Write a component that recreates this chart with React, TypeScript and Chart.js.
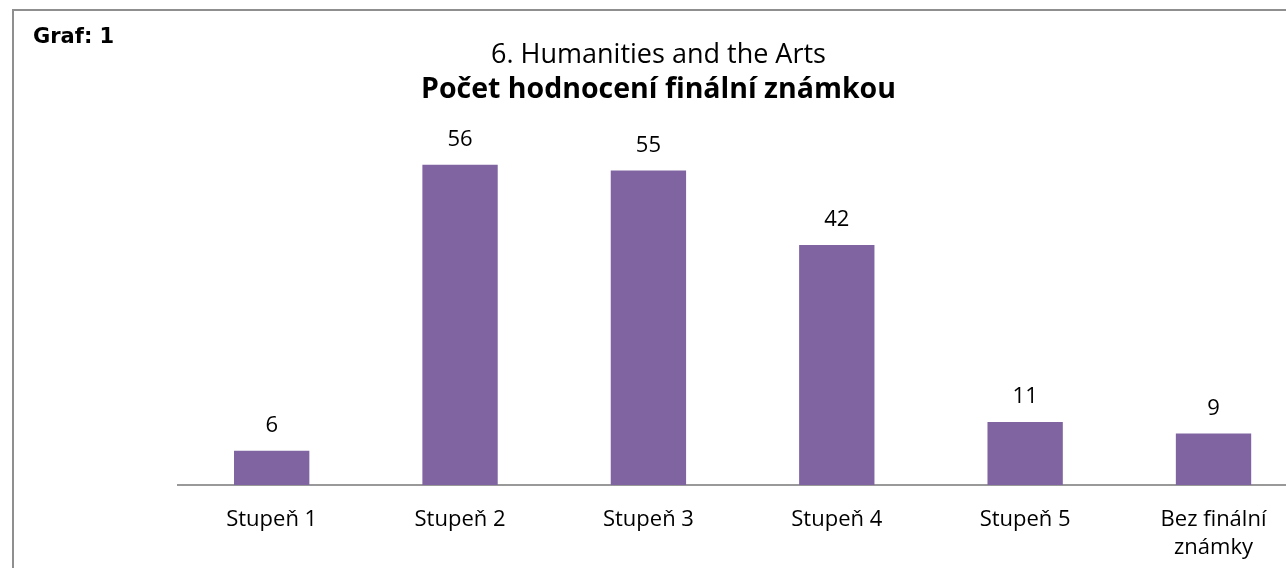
import React, { useEffect, useRef } from "react";
import { Chart, registerables } from "chart.js";

Chart.register(...registerables);

const categories: (string | string[])[] = [
  "Stupeň 1",
  "Stupeň 2",
  "Stupeň 3",
  "Stupeň 4",
  "Stupeň 5",
  ["Bez finální", "známky"],
];
const counts: number[] = [6, 56, 55, 42, 11, 9];
const titleLine1 = "6. Humanities and the Arts";
const titleLine2 = "Počet hodnocení finální známkou";
const graphLabel = "Graf: 1";

const BAR_COLOR = "#8064A2";
const FONT = "'Open Sans', 'DejaVu Sans', sans-serif";

const CANVAS_W = 1330;
const CANVAS_H = 568;

export default function App() {
  const ref = useRef<HTMLCanvasElement | null>(null);

  useEffect(() => {
    if (!ref.current) return;

    const decorPlugin = {
      id: "decor",
      afterDraw(chart: any) {
        const ctx = chart.ctx;
        ctx.save();
        // outer frame
        ctx.strokeStyle = "#8f8f8f";
        ctx.lineWidth = 2;
        ctx.strokeRect(13, 10, 1400, 700);
        // graph label
        ctx.fillStyle = "#000";
        ctx.textBaseline = "alphabetic";
        ctx.textAlign = "left";
        ctx.font = "bold 21px 'DejaVu Sans', Verdana, sans-serif";
        ctx.fillText(graphLabel, 33, 43);
        // title
        ctx.textAlign = "center";
        ctx.font = `27px ${FONT}`;
        ctx.fillText(titleLine1, 658.5, 63);
        ctx.font = `bold 28.5px ${FONT}`;
        ctx.fillText(titleLine2, 658.5, 98);
        // value labels
        ctx.font = `22px ${FONT}`;
        const meta = chart.getDatasetMeta(0);
        meta.data.forEach((bar: any, i: number) => {
          ctx.fillText(String(counts[i]), bar.x, bar.y - 19);
        });
        ctx.restore();
      },
    };

    const chart = new Chart(ref.current, {
      type: "bar",
      data: {
        labels: categories,
        datasets: [
          {
            data: counts,
            backgroundColor: BAR_COLOR,
            borderWidth: 0,
            categoryPercentage: 1,
            barPercentage: 0.4,
          },
        ],
      },
      options: {
        responsive: false,
        animation: false,
        layout: { padding: { left: 177.5, right: 22.3, top: 142, bottom: 0 } },
        plugins: {
          legend: { display: false },
          title: { display: false },
          tooltip: { enabled: false },
        },
        scales: {
          x: {
            grid: { display: false, drawTicks: false },
            border: { display: true, color: "#999999", width: 2 },
            ticks: {
              color: "#000",
              font: { family: FONT, size: 22, lineHeight: 1.25 },
              padding: 21,
              maxRotation: 0,
              autoSkip: false,
            },
            afterFit: (s: any) => {
              s.height = 83;
            },
          },
          y: {
            display: false,
            min: 0,
            max: 60,
          },
        },
      },
      plugins: [decorPlugin],
    });

    return () => chart.destroy();
  }, []);

  return (
    <div
      style={{
        position: "fixed",
        left: 0,
        top: 0,
        width: 1286,
        height: 568,
        overflow: "hidden",
        background: "#fff",
      }}
    >
      <canvas
        ref={ref}
        width={CANVAS_W}
        height={CANVAS_H}
        style={{ position: "absolute", left: 0, top: 0, width: CANVAS_W, height: CANVAS_H }}
      />
    </div>
  );
}
